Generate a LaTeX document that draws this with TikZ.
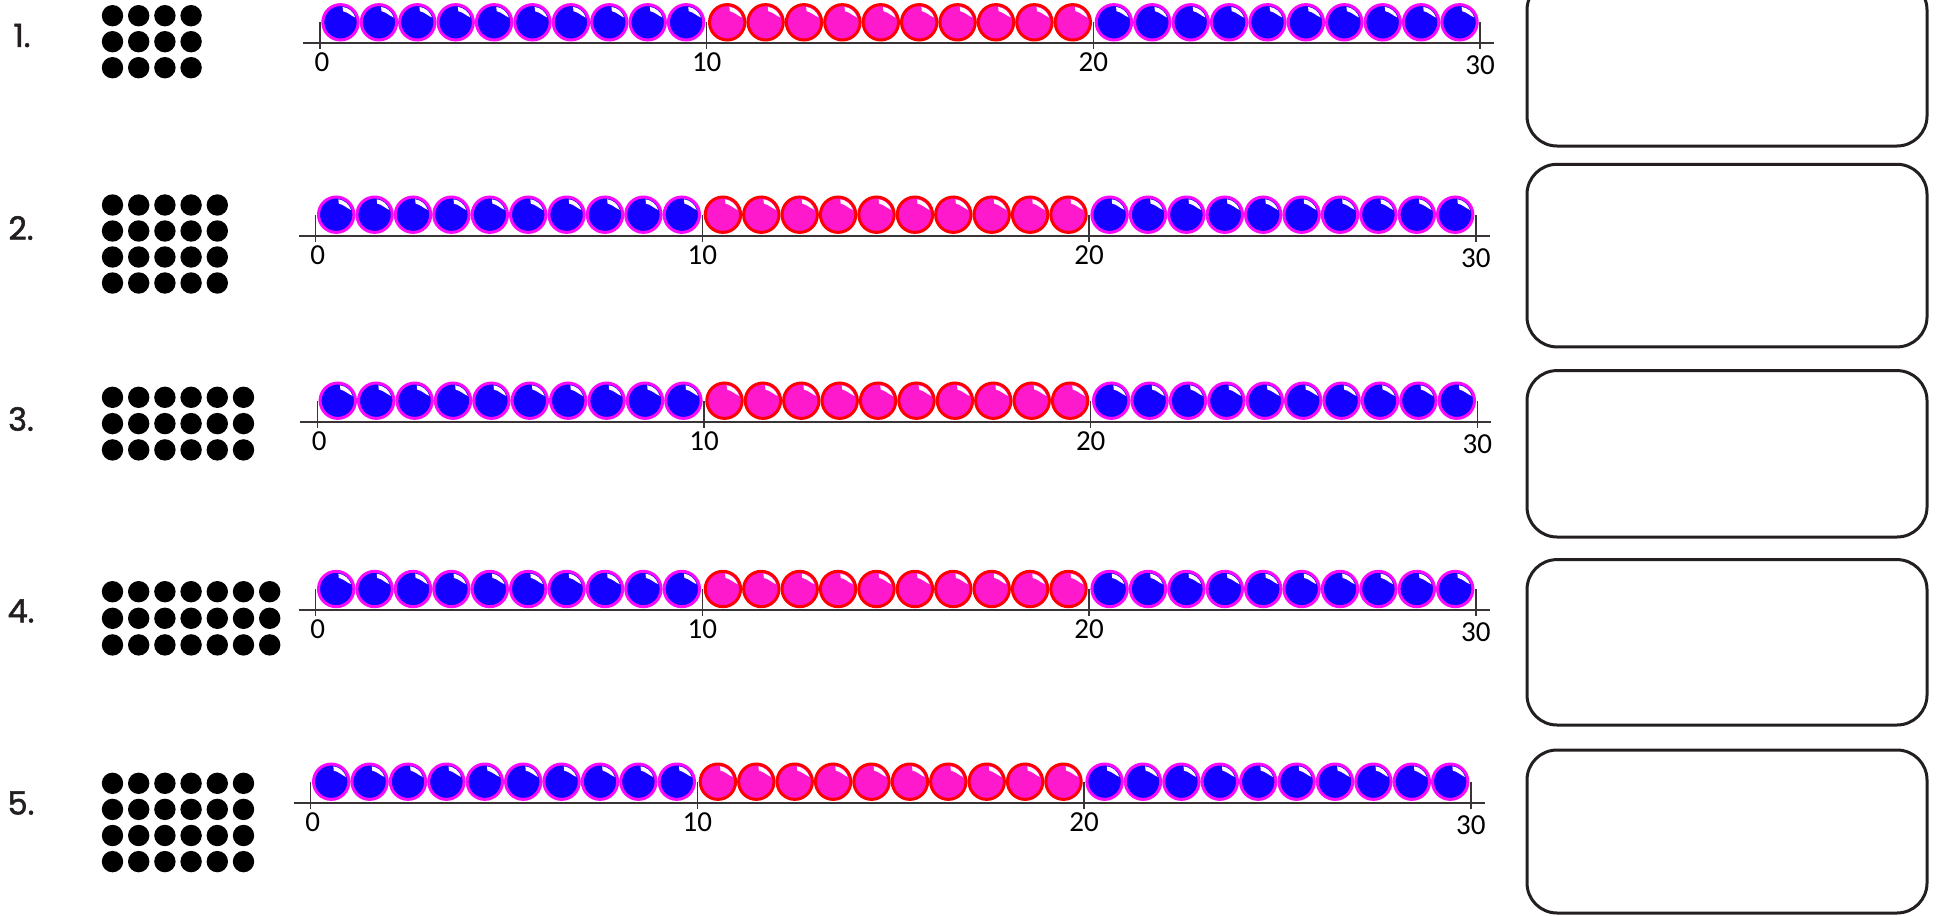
\documentclass[tikz,border=0pt]{standalone}
\usepackage{fontspec}
\setmainfont{Carlito}
\newfontfamily\labfont{Poppins}[FakeBold=1.6]
\definecolor{bblue}{RGB}{20,0,255}
\definecolor{bmag}{RGB}{250,10,250}
\definecolor{bpink}{RGB}{255,25,205}
\definecolor{bred}{RGB}{255,0,0}
\definecolor{ink}{RGB}{35,31,32}
\tikzset{
  axisline/.style={draw=ink!90,line width=1pt},
  tickline/.style={draw=ink!90,line width=0.75pt},
  axlab/.style={font=\fontsize{14.5}{15}\selectfont,text=black,inner sep=0pt},
  rowlab/.style={font=\labfont\fontsize{16}{18}\selectfont,text=ink,inner sep=0pt},
  ansbox/.style={draw=ink,line width=1.5pt,rounded corners=15pt,minimum width=200pt,inner sep=0pt},
  dotstyle/.style={fill=black}
}
\newcommand\beadrow[3]{% #1 x0, #2 line y, #3 row id
  \foreach \g/\fc/\dc in {0/bblue/bmag,1/bpink/bred,2/bblue/bmag}{
    \foreach \j in {0,...,9}{
      \pgfmathsetmacro\cx{#1+\g*386.7+1.3+19.2+\j*38.4}
      \begin{scope}[shift={(\cx,-#2+21)}]
        \filldraw[fill=\fc,draw=\dc,line width=1.5pt] (0,0) circle[radius=17.7];
        \fill[white,scale=18.5] (82:0.84) arc[start angle=82,end angle=18,radius=0.84]
          .. controls (0.55,0.36) and (0.42,0.54) .. (0.14,0.6) -- cycle;
      \end{scope}
    }
  }
  \draw[axisline] (#1-17,-#2) -- (#1+30*38.67+14,-#2);
  \foreach \t in {0,10,20,30}{
    \pgfmathsetmacro\tx{#1+\t*38.67}
    \draw[tickline] (\tx,-#2+21) -- (\tx,-#2-6);
  }
  \node[axlab] (r#3a) at (#1+2,-#2-19) {0};
  \node[axlab] (r#3b) at (#1+10*38.67,-#2-19) {10};
  \node[axlab] (r#3c) at (#1+20*38.67,-#2-19) {20};
  \node[axlab] (r#3d) at (#1+30*38.67,-#2-22) {30};
}
\newcommand\dotarray[4]{% #1 cols, #2 rows, #3 first y, #4 y spacing
  \foreach \c in {1,...,#1}{
    \foreach \r in {1,...,#2}{
      \fill[dotstyle] (112.5+\c*26.2-26.2,-#3-\r*#4+#4) circle[radius=10.7];
    }
  }
}
\begin{document}
\begin{tikzpicture}[x=0.5pt,y=0.5pt]
\useasboundingbox (0,0) rectangle (1937,-915);
\clip (0,0) rectangle (1937,-915);
\fill[white] (0,0) rectangle (1937,-915);

% row labels
\node[rowlab] (n1) at (22,-35.5) {1.};
\node[rowlab] (n2) at (21,-228) {2.};
\node[rowlab] (n3) at (21,-419) {3.};
\node[rowlab] (n4) at (21,-611) {4.};
\node[rowlab] (n5) at (21,-803) {5.};

% dot arrays
\dotarray{4}{3}{15.7}{26}
\dotarray{5}{4}{205}{26}
\dotarray{6}{3}{397.3}{26.3}
\dotarray{7}{3}{591.7}{26.6}
\dotarray{6}{4}{783.3}{26.1}

% bead rows
\beadrow{320}{43.3}{1}
\beadrow{315.7}{235.7}{2}
\beadrow{317.3}{421.7}{3}
\beadrow{315.7}{610}{4}
\beadrow{310.7}{802.7}{5}

% answer boxes
\node[ansbox,minimum height=83pt] (box1) at (1727,-63) {};
\node[ansbox,minimum height=91.3pt] (box2) at (1727,-255.6) {};
\node[ansbox,minimum height=83.2pt] (box3) at (1727,-453.8) {};
\node[ansbox,minimum height=82.7pt] (box4) at (1727,-642.3) {};
\node[ansbox,minimum height=81.5pt] (box5) at (1727,-831.5) {};
\end{tikzpicture}
\end{document}
